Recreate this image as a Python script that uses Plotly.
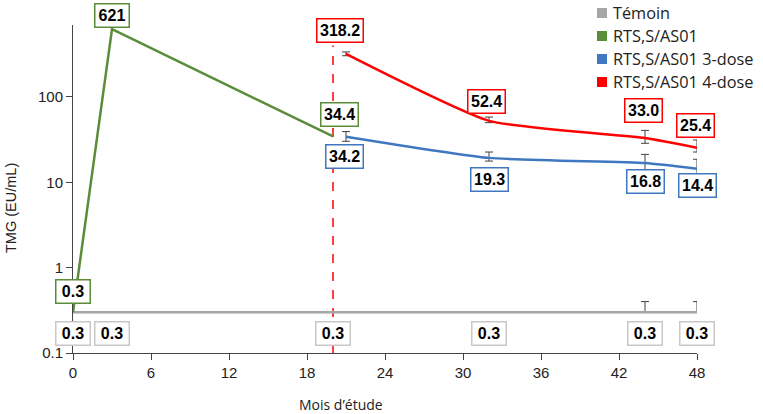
import math
import plotly.graph_objects as go

# ---- data ----
temoin_x = [0, 3, 20, 32, 44, 48]
temoin_y = [0.3, 0.3, 0.3, 0.3, 0.3, 0.3]
temoin_err_plus = [0, 0, 0, 0, 0.1, 0.1]

rts_x = [0, 3, 20]
rts_y = [0.3, 621, 34.4]

dose3_x = [21, 32, 44, 48]
dose3_y = [34.2, 19.3, 16.8, 14.4]
dose3_err_plus = [5, 3.3, 4.4, 4.2]
dose3_err_minus = [4, 1.6, 3.0, 2.6]

dose4_x = [21, 32, 44, 48]
dose4_y = [318.2, 52.4, 33.0, 25.4]
dose4_err_plus = [18, 5.6, 7.5, 5.9]
dose4_err_minus = [15, 2.5, 4.4, 2.8]

vline_x = [20, 20]
vline_y = [0.1, 400]

legend_names = ["Témoin", "RTS,S/AS01", "RTS,S/AS01 3-dose", "RTS,S/AS01 4-dose"]

x_ticks = [0, 6, 12, 18, 24, 30, 36, 42, 48]
y_ticks = [0.1, 1, 10, 100]
y_ticklabels = ["0.1", "1", "10", "100"]

GRAY = "#a6a6a6"
GREEN = "#5b8c3a"
BLUE = "#3f78c0"
RED = "#ff0000"
ERR = "#404040"
legend_colors = [GRAY, GREEN, BLUE, RED]

# figure geometry (page body margin removed via post_script)
W, H = 763, 414
ML, MR, MT, MB = 73, 66, 25, 61
PW, PH = W - ML - MR, H - MT - MB


def px(fx):
    return (fx - ML) / PW


def py(fy):
    return (H - MB - fy) / PH


fig = go.Figure()

fig.add_trace(go.Scatter(x=vline_x, y=vline_y, mode="lines",
                         line=dict(color=RED, width=1.5, dash="dash"),
                         showlegend=False, hoverinfo="skip"))
fig.add_trace(go.Scatter(x=temoin_x, y=temoin_y, mode="lines", name=legend_names[0],
                         line=dict(color=GRAY, width=2.5),
                         error_y=dict(type="data", symmetric=False, array=temoin_err_plus,
                                      arrayminus=[0]*6, color=ERR, thickness=1, width=4),
                         showlegend=False))
fig.add_trace(go.Scatter(x=rts_x, y=rts_y, mode="lines", name=legend_names[1],
                         line=dict(color=GREEN, width=2.5), showlegend=False))
fig.add_trace(go.Scatter(x=dose3_x, y=dose3_y, mode="lines", name=legend_names[2],
                         line=dict(color=BLUE, width=2.5, shape="spline", smoothing=0.5),
                         error_y=dict(type="data", symmetric=False, array=dose3_err_plus,
                                      arrayminus=dose3_err_minus, color=ERR, thickness=1, width=4),
                         showlegend=False))
fig.add_trace(go.Scatter(x=dose4_x, y=dose4_y, mode="lines", name=legend_names[3],
                         line=dict(color=RED, width=2.5, shape="spline", smoothing=0.5),
                         error_y=dict(type="data", symmetric=False, array=dose4_err_plus,
                                      arrayminus=dose4_err_minus, color=ERR, thickness=1, width=4),
                         showlegend=False))

# manual legend (square swatch + text)
for i, (name, col) in enumerate(zip(legend_names, legend_colors)):
    cy = 13 + 23 * i
    fig.add_shape(type="rect", xref="paper", yref="paper",
                  x0=px(597), x1=px(607), y0=py(cy + 5), y1=py(cy - 5),
                  fillcolor=col, line=dict(width=0))
    fig.add_annotation(xref="paper", yref="paper", x=px(611), y=py(cy), text=name,
                       xanchor="left", yanchor="middle", showarrow=False,
                       font=dict(family="Open Sans, Lato", size=16.3, color="#222"))


def box(x, y, text, col, yshift):
    w = 28 if len(text) <= 3 else None
    fig.add_annotation(x=x, y=math.log10(y), text="<b>%s</b>" % text, showarrow=False,
                       yshift=yshift, xanchor="center", yanchor="middle", width=w,
                       font=dict(family="Liberation Sans, Arial", size=16, color="black"),
                       bgcolor="white", bordercolor=col, borderwidth=1.5, borderpad=2.5)


# green labels
box(0, rts_y[0], "0.3", GREEN, 21)
box(3, rts_y[1], "621", GREEN, 14)
box(20.5, rts_y[2], "34.4", GREEN, 22)
# red labels
red_lx = [20.5, 31.8, 43.85, 47.9]
red_sh = [23, 19.5, 27, 22]
for xv, yv, sh in zip(red_lx, dose4_y, red_sh):
    box(xv, yv, "%.1f" % yv, RED, sh)
# blue labels
blue_lx = [20.9, 32, 44, 48]
blue_sh = [-20, -21.5, -18, -16.5]
for xv, yv, sh in zip(blue_lx, dose3_y, blue_sh):
    box(xv, yv, "%.1f" % yv, BLUE, sh)
# gray labels
for xv, yv in zip(temoin_x, temoin_y):
    box(xv, yv, "0.3", "#c8c8c8", -21)

# axis titles
fig.add_annotation(xref="paper", yref="paper", x=px(341), y=py(404), text="Mois d’étude",
                   xanchor="center", yanchor="middle", showarrow=False,
                   font=dict(family="Open Sans, Lato", size=14, color="#222"))
fig.add_annotation(xref="paper", yref="paper", x=px(11), y=py(208), text="TMG (EU/mL)",
                   xanchor="center", yanchor="middle", textangle=-90, showarrow=False,
                   font=dict(family="Liberation Sans, Arial", size=14.5, color="#222"))

fig.update_layout(
    width=W, height=H,
    margin=dict(l=ML, r=MR, t=MT, b=MB, autoexpand=False),
    plot_bgcolor="white", paper_bgcolor="white",
    font=dict(family="Liberation Sans, Arial", size=15, color="#222"),
    showlegend=False,
    xaxis=dict(range=[0, 48], tickvals=x_ticks, showgrid=False, zeroline=False,
               showline=True, linecolor="#444", linewidth=1, ticks="outside",
               ticklen=6, tickcolor="#444", tickfont=dict(size=15)),
    yaxis=dict(type="log", range=[-1, math.log10(695)], tickvals=y_ticks, ticktext=y_ticklabels,
               showgrid=False, zeroline=False, showline=True, linecolor="#444", linewidth=1,
               ticks="outside", ticklen=6, tickcolor="#444", tickfont=dict(size=15)),
)

fig.write_html("out.html", config={"displayModeBar": False},
               post_script="document.body.style.margin='0';")
